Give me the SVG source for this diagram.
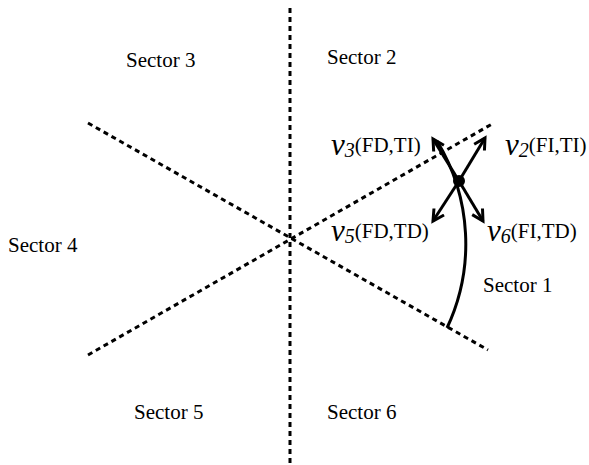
<svg xmlns="http://www.w3.org/2000/svg" width="589" height="465" viewBox="0 0 589 465">
<style>
.dot{stroke:#000;stroke-width:3;stroke-dasharray:5 4;fill:none}
.ar{stroke:#000;stroke-width:3;fill:none;marker-end:url(#ah)}
.t{font-family:"Liberation Serif","Times New Roman",serif;font-size:21px;fill:#000}
.v{font-style:italic;font-size:31px}
.s{font-style:italic;font-size:20px}
</style>
<defs>
<marker id="ah" markerUnits="userSpaceOnUse" markerWidth="18" markerHeight="18" refX="12" refY="7" orient="auto" viewBox="0 0 18 14">
<path d="M1,1 L12,7 L1,13" fill="none" stroke="#000" stroke-width="3" stroke-linejoin="miter"/>
</marker>
</defs>
<rect width="589" height="465" fill="#fff"/>
<g id="axes">
<line class="dot" x1="290" y1="8" x2="290" y2="465"/>
<line class="dot" x1="88" y1="123" x2="488" y2="350"/>
<line class="dot" x1="88" y1="355" x2="492" y2="124"/>
</g>
<g id="connectors">
<path d="M447,328 A198,198 0 0 0 437,141" stroke="#000" stroke-width="3" fill="none"/>
<line class="ar" x1="459" y1="181" x2="433" y2="139"/>
<line class="ar" x1="459" y1="181" x2="485" y2="138"/>
<line class="ar" x1="459" y1="181" x2="433" y2="221"/>
<line class="ar" x1="459" y1="181" x2="483" y2="221"/>
</g>
<g id="point"><circle cx="459" cy="181" r="6" fill="#000"/></g>
<g id="sectors">
<text class="t" x="126" y="67">Sector 3</text>
<text class="t" x="327" y="64">Sector 2</text>
<text class="t" x="8" y="252">Sector 4</text>
<text class="t" x="483" y="292">Sector 1</text>
<text class="t" x="134" y="419">Sector 5</text>
<text class="t" x="327" y="419">Sector 6</text>
</g>
<g id="labels">
<text class="t"><tspan class="v" x="331" y="155">v</tspan><tspan class="s" y="157">3</tspan><tspan y="152">(FD,TI)</tspan></text>
<text class="t"><tspan class="v" x="505" y="155">v</tspan><tspan class="s" y="157">2</tspan><tspan y="152">(FI,TI)</tspan></text>
<text class="t"><tspan class="v" x="331" y="241">v</tspan><tspan class="s" y="243">5</tspan><tspan y="238">(FD,TD)</tspan></text>
<text class="t"><tspan class="v" x="487" y="241">v</tspan><tspan class="s" y="243">6</tspan><tspan y="238">(FI,TD)</tspan></text>
</g>
</svg>
